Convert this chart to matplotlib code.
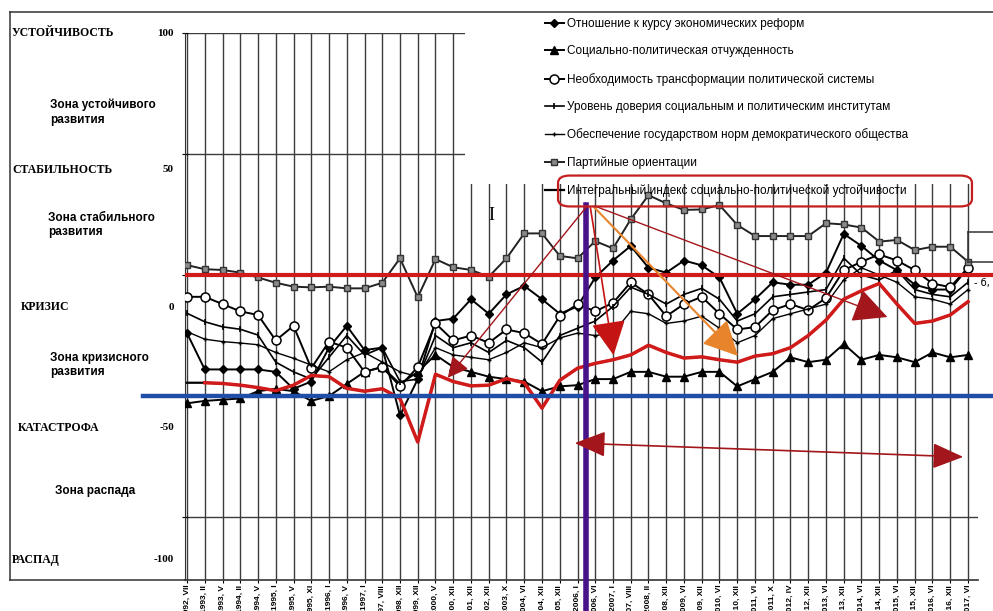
import matplotlib
matplotlib.use('Agg')
import matplotlib.pyplot as plt
from matplotlib import font_manager
from matplotlib.lines import Line2D
from matplotlib.patches import Rectangle, FancyBboxPatch, FancyArrowPatch

names = {f.name for f in font_manager.fontManager.ttflist}
narrow = 'Liberation Sans Narrow' if 'Liberation Sans Narrow' in names else 'Liberation Sans'

periods = ['1992, VII', '1993, II', '1993, V', '1994, II', '1994, V', '1995, I', '1995, V',
           '1995, XI', '1996, I', '1996, V', '1997, I', '1997, VIII', '1998, XII', '1999, XII',
           '2000, V', '2000, XII', '2001, XII', '2002, XII', '2003, X', '2004, VI', '2004, XII',
           '2005, XII', '2006, I', '2006, VI', '2007, I', '2007, VIII', '2008, II', '2008, XII',
           '2009, VI', '2009, XII', '2010, VI', '2010, XII', '2011, VI', '2011, X', '2012, IV',
           '2012, XII', '2013, VI', '2013, XII', '2014, VI', '2014, XII', '2015, VI', '2015, XII',
           '2016, VI', '2016, XII', '2017, VI']

reforms = [-24, -39, -39, -39, -39, -40, -47, -44, -30, -21, -31, -30, -58, -43, -19, -18, -10,
           -16, -8, -4.5, -10, -16, -13, -1, 6, 12, 3, 1, 6, 4, -1, -16, -10, -3, -4, -4, 1,
           17, 12, 6, 2, -4, -6, -6, 3]
alienation = [-53, -52, -51.5, -51, -48, -47, -48, -52, -50, -45, -40, -38, -45, -40, -33, -38,
              -40, -42, -43, -44, -48, -46, -45.5, -43, -43, -40, -40, -42, -42, -40, -40, -46,
              -43, -40, -34, -36, -35, -28.5, -35, -33, -34, -36, -32, -34, -33]
transform = [-9, -9, -12, -15, -16.5, -27, -21, -38.5, -27.5, -30, -40, -38, -46, -38, -20, -27,
             -25, -28, -22.5, -24, -28.5, -17, -12, -15, -11.5, -3, -8, -17, -12, -9, -16,
             -22.5, -21.5, -14.5, -12, -14.5, -9.5, 2, 5.5, 8.5, 6, 2, -3.5, -5, 3]
trust = [-15.8, -19.3, -21.4, -22.4, -24.8, -36, -40, -43, -34, -25, -33, -30, -44, -43, -25,
         -30, -28, -32, -27, -30, -36, -25, -22, -19, -13, -5, -8, -12, -8, -5.5, -10, -19, -16,
         -9, -8, -7, -6, 7, 0, -2, 2, -6, -8, -9, -3]
norms = [-23.4, -26.5, -27.5, -28.1, -28.8, -32, -34.4, -37.2, -40, -35, -32, -36, -40, -42, -30,
         -33, -34, -35, -32, -28, -30, -26, -24, -25, -24, -15, -16, -20, -19, -17, -22, -28,
         -25, -18, -16, -14, -12, -2, 3, 0, -3, -9, -10, -12, -6]
parties = [4.1, 2.4, 2.1, 1.0, -1.0, -3.2, -4.8, -5.1, -4.8, -5.5, -5.5, -3.2, 6.9, -9.2, 6.6,
           3.2, 2.1, -0.7, 6.9, 17.2, 17.2, 7.9, 6.9, 14.0, 11.0, 23.0, 33.0, 29.6, 26.9, 27.1,
           28.9, 20.7, 16.1, 16.1, 16.1, 16.1, 21.4, 20.9, 19.6, 13.8, 14.5, 10.3, 11.7, 11.7, 5.5]
integral = [-44.5, -44.5, -44.8, -45.5, -46.5, -47.8, -45.5, -41.5, -42, -46.8, -48, -47, -51,
            -69, -41, -44, -45.8, -45.5, -42.8, -44.5, -55, -43.5, -38.5, -36.5, -35, -33, -29,
            -32, -34.3, -33.8, -35, -36, -33.5, -32.5, -30, -25, -18.6, -10, -6.5, -3.5, -12,
            -20, -19, -16.5, -11]

labels = ['Отношение к курсу экономических реформ',
          'Социально-политическая отчужденность',
          'Необходимость трансформации политической системы',
          'Уровень доверия социальным и политическим институтам',
          'Обеспечение государством норм демократического общества',
          'Партийные ориентации',
          'Интегральный индекс социально-политической устойчивости']

W, H = 993, 611


def fx(px):
    return px / W


def fy(py):
    return 1 - py / H


fig = plt.figure(figsize=(W / 100, H / 100), dpi=100)
ax = fig.add_axes([fx(185), fy(580), (978 - 185) / W, (580 - 33) / H])
x = list(range(len(periods)))

ax.plot(x, reforms, color='black', lw=1.4, marker='D', ms=4, zorder=3, label=labels[0])
ax.plot(x, alienation, color='black', lw=1.4, marker='^', ms=5.5, zorder=3, label=labels[1])
ax.plot(x, transform, color='black', lw=1.4, marker='o', ms=6.5, mfc='white', mew=1.1,
        zorder=3, label=labels[2])
ax.plot(x, trust, color='black', lw=1.2, marker='|', ms=5, mew=1.2, zorder=3, label=labels[3])
ax.plot(x, norms, color='black', lw=1.0, marker='+', ms=3, zorder=3, label=labels[4])
ax.plot(x, parties, color='#222222', lw=1.4, marker='s', ms=5, mfc='#8a8a8a', mec='#333333',
        zorder=3, label=labels[5])
ax.plot(x, integral, color='black', lw=1.6, zorder=3, label=labels[6])
# red hand-drawn trace over the integral index
ax.plot(x[1:], integral[1:], color='#d11a1a', lw=2.5, zorder=4, solid_joinstyle='round')

ax.set_xlim(-2 / 17.75, 44 + 10 / 17.75)
ax.set_ylim(-126, 100)
ax.set_xticks(x)
ax.set_xticklabels(periods, rotation=90, fontsize=6, fontweight='bold', family=narrow)
ax.tick_params(axis='x', length=2, pad=1.5)
ax.set_yticks([100, 50, 0, -50, -100])
ax.set_yticklabels([])
ax.tick_params(axis='y', length=4, direction='inout')
ax.xaxis.grid(True, color='#3c3c3c', lw=1.0, zorder=0)
for v in (100, 50, -100):
    ax.axhline(v, color='#3c3c3c', lw=1.0, zorder=0.5)
for s in ('top', 'right'):
    ax.spines[s].set_visible(False)
ax.spines['left'].set_color('#333333')
ax.spines['bottom'].set_color('#333333')
ax.spines['bottom'].set_linewidth(1.2)

# hand-drawn level lines
ax.axhline(0, xmin=(187 - 185) / 793, xmax=(993 - 185) / 793, color='#d11a1a', lw=3,
           zorder=6, clip_on=False)
ax.axhline(-50, xmin=(143 - 185) / 793, xmax=(993 - 185) / 793, color='#1f4ea8', lw=3.2,
           zorder=6, clip_on=False)
ax.axvline(22.5, ymin=-(611 - 580) / 547, ymax=(580 - 205) / 547, color='#48128a', lw=4,
           zorder=7, clip_on=False)

# white area behind the legend
fig.add_artist(Rectangle((fx(465), fy(184)), 1 - fx(465), (184 - 13) / H,
                         transform=fig.transFigure, facecolor='white', edgecolor='none',
                         zorder=1))

fig.legend(loc='upper left', bbox_to_anchor=(fx(545), fy(18)), frameon=False,
           prop={'family': narrow, 'size': 8.5}, labelspacing=1.3, handlelength=1.6,
           handletextpad=0.3, borderpad=0, borderaxespad=0)

# outer frame
for xs, ys in (([10, 10], [12, 580]), ([10, 993], [12, 12]), ([10, 185], [580, 580]),
               ([968, 968], [232, 262]), ([968, 993], [232, 232]), ([968, 993], [262, 262])):
    fig.add_artist(Line2D([fx(v) for v in xs], [fy(v) for v in ys], color='#333333', lw=1.1,
                          transform=fig.transFigure, zorder=3))

# left column
caps = [('УСТОЙЧИВОСТЬ', 12, 33, '100'), ('СТАБИЛЬНОСТЬ', 12, 170, '50'),
        ('КРИЗИС', 21, 307, '0'), ('КАТАСТРОФА', 18, 428, '-50'), ('РАСПАД', 12, 560, '-100')]
for name, px, py, num in caps:
    fig.text(fx(px), fy(py), name, fontsize=8.5, fontweight='bold', family='Liberation Serif',
             va='center', ha='left')
    fig.text(fx(174), fy(py), num, fontsize=8, fontweight='bold', family='Liberation Serif',
             va='center', ha='right')
zones = [('Зона устойчивого\nразвития', 50, 112), ('Зона стабильного\nразвития', 48, 225),
         ('Зона кризисного\nразвития', 50, 365), ('Зона распада', 55, 491)]
for name, px, py in zones:
    fig.text(fx(px), fy(py), name, fontsize=8.5, fontweight='bold', family='Liberation Sans',
             va='center', ha='left', linespacing=1.3)

fig.text(fx(488), fy(216), 'I', fontsize=13, family='Liberation Serif', va='center')
fig.text(fx(974), fy(283), '- б,', fontsize=7, va='center')

# red annotations
arrows = [((588, 205), (446, 380), '#a3161b', 1.0, 'head_length=0.9,head_width=0.45', 14),
          ((590, 205), (614, 358), '#c41414', 1.2, 'head_length=1.2,head_width=0.6', 18),
          ((592, 205), (740, 358), '#e8842c', 1.5, 'head_length=1.2,head_width=0.6', 18),
          ((592, 205), (890, 318), '#a3161b', 1.0, 'head_length=1.2,head_width=0.6', 18)]
for p0, p1, col, lw, hs, ms in arrows:
    fig.add_artist(FancyArrowPatch((fx(p0[0]), fy(p0[1])), (fx(p1[0]), fy(p1[1])),
                                   transform=fig.transFigure, arrowstyle='-|>,' + hs,
                                   mutation_scale=ms, color=col, lw=lw, zorder=8))
fig.add_artist(FancyArrowPatch((fx(572), fy(443)), (fx(966), fy(457)),
                               transform=fig.transFigure,
                               arrowstyle='<|-|>,head_length=1.2,head_width=0.5',
                               mutation_scale=16, color='#a3161b', lw=1.2, zorder=8))
fig.add_artist(FancyBboxPatch((fx(562), fy(204)), fx(968) - fx(562), (204 - 178) / H,
                              boxstyle='round,pad=0.004,rounding_size=0.012',
                              transform=fig.transFigure, fill=False, ec='#c41e1e', lw=1.6,
                              zorder=8))

fig.savefig('out.png', dpi=100)
